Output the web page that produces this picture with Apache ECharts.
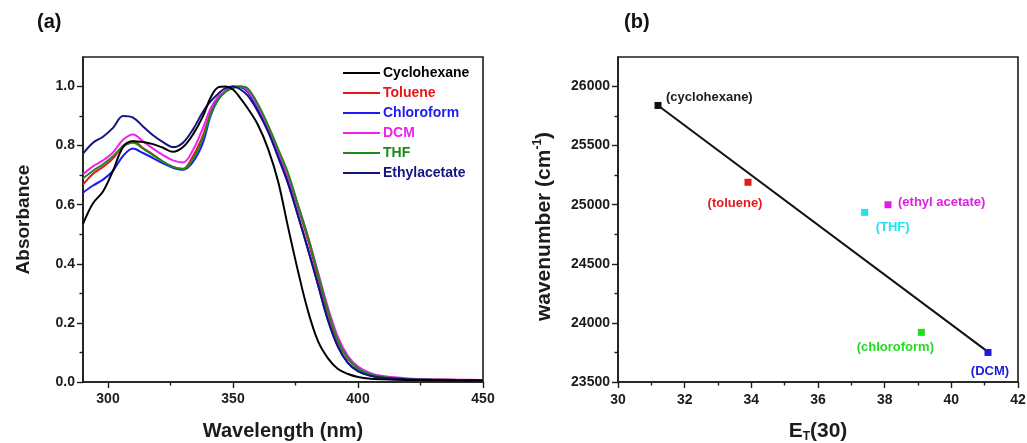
<!DOCTYPE html>
<html>
<head>
<meta charset="utf-8">
<script src="https://cdn.jsdelivr.net/npm/echarts@6/dist/echarts.min.js"></script>
<style>
  html, body { margin: 0; padding: 0; background: #ffffff; }
  #chart { width: 1027px; height: 443px; }
</style>
</head>
<body>
<div id="chart"></div>
<script>
// ---- (a) absorption spectra, normalised ----
const wavelengths = [290, 294, 298, 302, 306, 310, 314, 318, 322, 326, 330, 334, 338, 341, 344, 347, 350, 353, 356, 360, 364, 368, 372, 376, 380, 384, 388, 392, 396, 400, 405, 410, 420, 430, 440, 450];
const cyclohexane  = [0.535, 0.605, 0.645, 0.715, 0.795, 0.815, 0.812, 0.805, 0.793, 0.779, 0.795, 0.838, 0.900, 0.962, 0.997, 1.000, 0.990, 0.960, 0.925, 0.870, 0.790, 0.680, 0.525, 0.375, 0.240, 0.138, 0.080, 0.044, 0.027, 0.017, 0.011, 0.009, 0.007, 0.006, 0.005, 0.005];
const toluene      = [0.668, 0.705, 0.728, 0.757, 0.800, 0.815, 0.792, 0.770, 0.746, 0.728, 0.722, 0.765, 0.835, 0.910, 0.960, 0.985, 0.997, 1.000, 0.985, 0.930, 0.858, 0.780, 0.695, 0.590, 0.480, 0.355, 0.232, 0.135, 0.078, 0.045, 0.025, 0.017, 0.010, 0.008, 0.007, 0.006];
const chloroform   = [0.641, 0.665, 0.685, 0.715, 0.765, 0.790, 0.775, 0.758, 0.740, 0.725, 0.718, 0.745, 0.810, 0.900, 0.955, 0.985, 1.000, 0.998, 0.980, 0.920, 0.850, 0.765, 0.675, 0.565, 0.450, 0.330, 0.210, 0.120, 0.065, 0.038, 0.022, 0.015, 0.009, 0.007, 0.006, 0.005];
const dcm          = [0.703, 0.730, 0.750, 0.777, 0.820, 0.838, 0.815, 0.790, 0.768, 0.750, 0.743, 0.785, 0.860, 0.925, 0.965, 0.985, 0.997, 1.000, 0.985, 0.932, 0.862, 0.782, 0.700, 0.597, 0.492, 0.372, 0.252, 0.152, 0.088, 0.052, 0.030, 0.020, 0.012, 0.009, 0.008, 0.007];
const thf          = [0.689, 0.715, 0.737, 0.764, 0.797, 0.810, 0.790, 0.768, 0.746, 0.728, 0.720, 0.755, 0.825, 0.905, 0.955, 0.982, 0.995, 1.000, 0.993, 0.940, 0.870, 0.790, 0.708, 0.600, 0.490, 0.365, 0.240, 0.140, 0.080, 0.046, 0.026, 0.017, 0.010, 0.008, 0.007, 0.006];
const ethylacetate = [0.773, 0.810, 0.830, 0.860, 0.900, 0.895, 0.865, 0.835, 0.812, 0.795, 0.810, 0.855, 0.915, 0.950, 0.975, 0.995, 1.000, 0.990, 0.968, 0.915, 0.848, 0.762, 0.672, 0.562, 0.448, 0.328, 0.208, 0.118, 0.064, 0.036, 0.021, 0.014, 0.009, 0.007, 0.006, 0.005];

const spectraNames = ['Cyclohexane', 'Toluene', 'Chloroform', 'DCM', 'THF', 'Ethylacetate'];
const spectraData  = [cyclohexane, toluene, chloroform, dcm, thf, ethylacetate];

const xTicksA      = [300, 350, 400, 450];
const xMinorTicksA = [325, 375, 425];
const yTicksA      = [0, 0.2, 0.4, 0.6, 0.8, 1.0];
const yMinorTicksA = [0.1, 0.3, 0.5, 0.7, 0.9];

// ---- (b) wavenumber vs. E_T(30) ----
const solventNames = ['cyclohexane', 'toluene', 'THF', 'ethyl acetate', 'chloroform', 'DCM'];
const etValues     = [31.2, 33.9, 37.4, 38.1, 39.1, 41.1];
const wavenumbers  = [25840, 25190, 24935, 25000, 23920, 23750];
const fitX = [31.2, 41.1];
const fitY = [25840, 23755];

const xTicksB      = [30, 32, 34, 36, 38, 40, 42];
const xMinorTicksB = [31, 33, 35, 37, 39, 41];
const yTicksB      = [23500, 24000, 24500, 25000, 25500, 26000];
const yMinorTicksB = [23750, 24250, 24750, 25250, 25750];

// ---- styling ----
const FONT = '"Liberation Sans", Arial, Helvetica, sans-serif';
const INK = '#1c1c1c';
const spectraColors = ['#000000', '#e8151b', '#1c1cf0', '#f020f0', '#1d8a1d', '#141480'];
const pointColors   = ['#111111', '#e31a1c', '#22e0f0', '#e020e0', '#22dd22', '#1a1ad8'];
const labelColors   = ['#1c1c1c', '#e31a1c', '#22e0f0', '#e020e0', '#22dd22', '#1a1ad8'];
const labelPlacement = [
  { align: 'left',   offset: [8, -8] },
  { align: 'center', offset: [-13, 21] },
  { align: 'center', offset: [28, 15] },
  { align: 'left',   offset: [10, -2] },
  { align: 'center', offset: [-26, 15] },
  { align: 'center', offset: [2, 19] }
];

function mainAxis(opts) {
  return Object.assign({
    type: 'value',
    axisLine: { show: true, onZero: false, lineStyle: { color: INK, width: 1.6 } },
    splitLine: { show: false },
    nameLocation: 'middle',
    nameTextStyle: { color: INK, fontSize: 20, fontWeight: 'bold', fontFamily: FONT }
  }, opts);
}
function minorAxis(opts) {
  return Object.assign({
    type: 'value',
    axisLine: { show: false, onZero: false },
    axisLabel: { show: false },
    splitLine: { show: false }
  }, opts);
}
function ticks(values, len) {
  return { show: true, length: len, customValues: values, lineStyle: { color: INK, width: 1.4 } };
}
function labels(values, margin, formatter) {
  return { color: INK, fontSize: 14, fontWeight: 'bold', fontFamily: FONT, margin: margin, customValues: values, formatter: formatter };
}

const lineSeries = spectraNames.map((name, i) => ({
  type: 'line',
  name: name,
  xAxisIndex: 0,
  yAxisIndex: 0,
  data: wavelengths.map((w, k) => [w, spectraData[i][k]]),
  smooth: 0.35,
  symbol: 'none',
  lineStyle: { width: 2, color: spectraColors[i] },
  itemStyle: { color: spectraColors[i] },
  z: i === 0 ? 4 : 3
}));

const chart = echarts.init(document.getElementById('chart'), null, { renderer: 'canvas' });

chart.setOption({
  animation: false,
  backgroundColor: '#ffffff',
  title: [
    { text: '(a)', left: 37, top: 12, padding: 0, textStyle: { color: '#111', fontSize: 20, fontWeight: 'bold', fontFamily: FONT } },
    { text: '(b)', left: 624, top: 12, padding: 0, textStyle: { color: '#111', fontSize: 20, fontWeight: 'bold', fontFamily: FONT } }
  ],
  grid: [
    { left: 83, top: 57, right: 544, bottom: 61, outerBoundsMode: 'none', containLabel: false, show: true, borderColor: INK, borderWidth: 1.6, backgroundColor: 'transparent' },
    { left: 618, top: 57, right: 9, bottom: 61, outerBoundsMode: 'none', containLabel: false, show: true, borderColor: INK, borderWidth: 1.6, backgroundColor: 'transparent' }
  ],
  legend: {
    orient: 'vertical',
    left: 343,
    top: 66,
    icon: 'rect',
    itemWidth: 37,
    itemHeight: 2,
    itemGap: 6,
    selectedMode: false,
    padding: 0,
    data: spectraNames.map((n, i) => ({ name: n, textStyle: { color: spectraColors[i] } })),
    textStyle: { fontSize: 14, fontWeight: 'bold', fontFamily: FONT, lineHeight: 14, padding: [0, 0, 0, -2] }
  },
  xAxis: [
    mainAxis({
      gridIndex: 0, min: 290, max: 450,
      name: 'Wavelength (nm)', nameGap: 39,
      axisTick: ticks(xTicksA, 6),
      axisLabel: labels(xTicksA, 10)
    }),
    minorAxis({
      gridIndex: 0, min: 290, max: 450, position: 'bottom',
      axisTick: ticks(xMinorTicksA, 3.5)
    }),
    mainAxis({
      gridIndex: 1, min: 30, max: 42,
      name: '{m|E}{s|T}{m|(30)}', nameGap: 37,
      nameTextStyle: {
        rich: {
          m: { fontSize: 21, fontWeight: 'bold', fontFamily: FONT, color: INK, lineHeight: 24, verticalAlign: 'middle' },
          s: { fontSize: 12, fontWeight: 'bold', fontFamily: FONT, color: INK, lineHeight: 10, verticalAlign: 'bottom' }
        }
      },
      axisTick: ticks(xTicksB, 6),
      axisLabel: labels(xTicksB, 11, v => String(v))
    }),
    minorAxis({
      gridIndex: 1, min: 30, max: 42, position: 'bottom',
      axisTick: ticks(xMinorTicksB, 3.5)
    })
  ],
  yAxis: [
    mainAxis({
      gridIndex: 0, min: 0, max: 1.1,
      name: 'Absorbance', nameGap: 50,
      nameTextStyle: { color: INK, fontSize: 19, fontWeight: 'bold', fontFamily: FONT },
      axisTick: ticks(yTicksA, 6),
      axisLabel: labels(yTicksA, 8, v => Number(v).toFixed(1))
    }),
    minorAxis({
      gridIndex: 0, min: 0, max: 1.1, position: 'left',
      axisTick: ticks(yMinorTicksA, 3.5)
    }),
    mainAxis({
      gridIndex: 1, min: 23500, max: 26250,
      name: '{m|wavenumber (cm}{p|-1}{m|)}', nameGap: 62,
      nameTextStyle: {
        padding: [0, 14, 0, 0],
        rich: {
          m: { fontSize: 21, fontWeight: 'bold', fontFamily: FONT, color: INK, lineHeight: 24, verticalAlign: 'middle' },
          p: { fontSize: 12, fontWeight: 'bold', fontFamily: FONT, color: INK, lineHeight: 10, verticalAlign: 'top' }
        }
      },
      axisTick: ticks(yTicksB, 6),
      axisLabel: labels(yTicksB, 8, v => String(v))
    }),
    minorAxis({
      gridIndex: 1, min: 23500, max: 26250, position: 'left',
      axisTick: ticks(yMinorTicksB, 3.5)
    })
  ],
  series: lineSeries.concat([
    {
      type: 'line',
      name: 'fit',
      xAxisIndex: 2,
      yAxisIndex: 2,
      data: fitX.map((x, i) => [x, fitY[i]]),
      symbol: 'none',
      lineStyle: { width: 2, color: '#111' },
      z: 2
    },
    {
      type: 'scatter',
      name: 'solvents',
      xAxisIndex: 2,
      yAxisIndex: 2,
      symbol: 'rect',
      symbolSize: 7,
      z: 5,
      itemStyle: { opacity: 1 },
      data: solventNames.map((n, i) => ({
        name: n,
        value: [etValues[i], wavenumbers[i]],
        itemStyle: { color: pointColors[i], opacity: 1 },
        label: {
          show: true,
          position: 'inside',
          verticalAlign: 'middle',
          align: labelPlacement[i].align,
          offset: labelPlacement[i].offset,
          color: labelColors[i]
        }
      })),
      label: {
        show: true,
        formatter: p => '(' + p.name + ')',
        fontSize: 13,
        fontWeight: 'bold',
        fontFamily: FONT
      }
    }
  ])
});
</script>
</body>
</html>
